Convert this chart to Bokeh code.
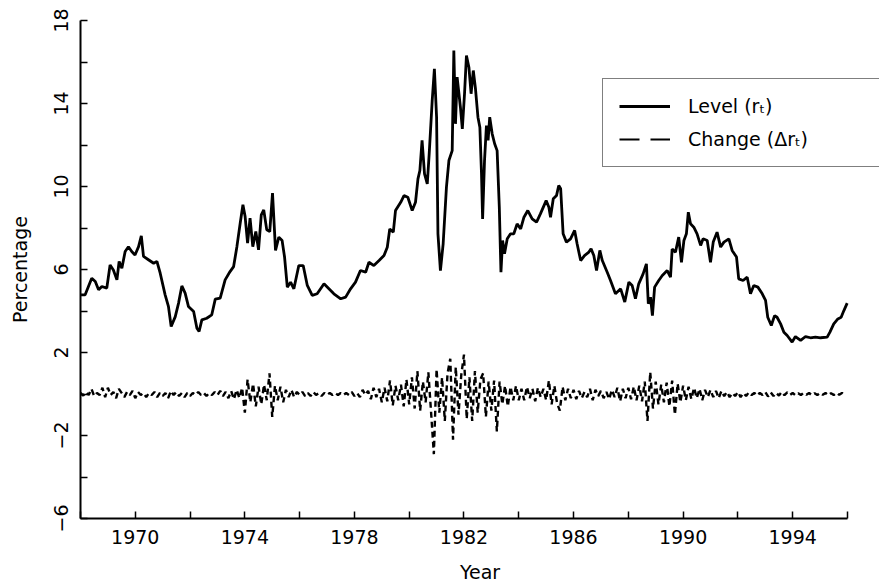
from bokeh.plotting import figure
from bokeh.models import FixedTicker, Legend, LegendItem, ColumnDataSource
from bokeh.embed import file_html
from bokeh.resources import INLINE

# ---- level of the rate (r_t) ----
level_year = [
    1968.02, 1968.17, 1968.29, 1968.41, 1968.54, 1968.66, 1968.78, 1968.96, 1969.08, 1969.20,
    1969.33, 1969.41, 1969.51, 1969.63, 1969.75, 1969.87, 1969.99, 1970.12, 1970.22, 1970.30,
    1970.48, 1970.67, 1970.79, 1970.91, 1971.09, 1971.21, 1971.31, 1971.46, 1971.58, 1971.70,
    1971.82, 1971.94, 1972.13, 1972.25, 1972.33, 1972.43, 1972.61, 1972.79, 1972.92, 1973.10,
    1973.28, 1973.46, 1973.59, 1973.71, 1973.83, 1973.93, 1974.01, 1974.10, 1974.19, 1974.29,
    1974.40, 1974.50, 1974.60, 1974.69, 1974.80, 1974.91, 1975.01, 1975.12, 1975.24, 1975.36,
    1975.45, 1975.55, 1975.67, 1975.79, 1975.97, 1976.13, 1976.28, 1976.46, 1976.64, 1976.89,
    1977.07, 1977.25, 1977.50, 1977.68, 1977.86, 1978.04, 1978.22, 1978.41, 1978.53, 1978.71,
    1978.90, 1979.08, 1979.20, 1979.29, 1979.42, 1979.50, 1979.69, 1979.81, 1979.95, 1980.11,
    1980.23, 1980.32, 1980.39, 1980.47, 1980.56, 1980.66, 1980.73, 1980.84, 1980.92, 1981.00,
    1981.05, 1981.14, 1981.24, 1981.36, 1981.45, 1981.57, 1981.63, 1981.69, 1981.75, 1981.87,
    1981.94, 1982.02, 1982.09, 1982.18, 1982.26, 1982.34, 1982.42, 1982.51, 1982.58, 1982.64,
    1982.68, 1982.75, 1982.82, 1982.88, 1982.94, 1983.03, 1983.12, 1983.21, 1983.29, 1983.35,
    1983.41, 1983.48, 1983.58, 1983.70, 1983.82, 1983.94, 1984.07, 1984.19, 1984.33, 1984.49,
    1984.65, 1984.79, 1985.00, 1985.10, 1985.16, 1985.26, 1985.38, 1985.46, 1985.53, 1985.62,
    1985.74, 1985.89, 1986.04, 1986.13, 1986.26, 1986.40, 1986.56, 1986.64, 1986.74, 1986.84,
    1986.96, 1987.05, 1987.23, 1987.35, 1987.53, 1987.72, 1987.87, 1988.02, 1988.14, 1988.26,
    1988.38, 1988.54, 1988.66, 1988.73, 1988.81, 1988.88, 1988.96, 1989.11, 1989.24, 1989.42,
    1989.54, 1989.60, 1989.72, 1989.84, 1989.94, 1990.03, 1990.12, 1990.19, 1990.27, 1990.39,
    1990.51, 1990.64, 1990.73, 1990.88, 1991.00, 1991.10, 1991.24, 1991.37, 1991.49, 1991.67,
    1991.79, 1991.95, 1992.03, 1992.19, 1992.34, 1992.46, 1992.58, 1992.73, 1992.89, 1993.01,
    1993.09, 1993.22, 1993.34, 1993.43, 1993.56, 1993.68, 1993.80, 1993.98, 1994.10, 1994.29,
    1994.47, 1994.65, 1994.83, 1995.02, 1995.26, 1995.36, 1995.50, 1995.65, 1995.77, 1995.87,
    1995.99,
]
level_value = [
    4.78, 4.78, 5.18, 5.58, 5.42, 5.02, 5.18, 5.10, 6.22, 5.98,
    5.50, 6.39, 6.06, 6.87, 7.10, 6.87, 6.70, 7.10, 7.62, 6.63,
    6.47, 6.30, 6.39, 5.82, 4.78, 4.22, 3.25, 3.73, 4.38, 5.21,
    4.86, 4.22, 3.98, 3.17, 3.01, 3.57, 3.65, 3.81, 4.57, 4.62,
    5.50, 5.90, 6.14, 7.10, 8.23, 9.12, 8.55, 7.27, 8.47, 7.10,
    7.83, 6.95, 8.63, 8.87, 7.91, 7.83, 9.68, 6.92, 7.56, 7.40,
    6.60, 5.15, 5.39, 5.07, 6.19, 6.19, 5.23, 4.75, 4.83, 5.31,
    5.07, 4.83, 4.59, 4.67, 5.07, 5.39, 5.95, 5.87, 6.35, 6.19,
    6.43, 6.67, 7.07, 7.95, 7.80, 8.84, 9.24, 9.56, 9.48, 8.84,
    9.24, 10.37, 10.77, 12.22, 10.61, 10.13, 11.57, 14.14, 15.67, 13.34,
    7.72, 5.95, 7.24, 9.97, 11.25, 11.73, 16.55, 13.02, 15.27, 13.82,
    12.78, 14.47, 16.31, 15.75, 14.47, 15.59, 14.71, 13.34, 12.86, 10.61,
    8.44, 11.25, 12.94, 12.22, 13.34, 12.54, 12.06, 11.73, 9.00, 5.87,
    7.40, 6.76, 7.48, 7.72, 7.72, 8.20, 7.96, 8.52, 8.84, 8.44,
    8.28, 8.68, 9.32, 9.00, 8.52, 9.41, 9.57, 10.05, 9.89, 7.72,
    7.32, 7.48, 7.88, 7.24, 6.43, 6.67, 6.84, 7.00, 6.67, 5.95,
    6.92, 6.43, 5.87, 5.47, 4.83, 5.07, 4.43, 5.39, 5.23, 4.59,
    5.31, 5.79, 6.27, 4.35, 4.67, 3.78, 5.15, 5.47, 5.71, 5.95,
    5.63, 6.99, 6.83, 7.56, 6.35, 7.40, 7.72, 8.76, 8.20, 8.04,
    7.72, 7.16, 7.48, 7.40, 6.35, 7.32, 7.80, 7.08, 7.32, 7.48,
    6.92, 6.60, 5.55, 5.47, 5.63, 4.83, 5.23, 5.15, 4.83, 4.51,
    3.70, 3.30, 3.78, 3.70, 3.38, 2.98, 2.82, 2.50, 2.77, 2.58,
    2.77, 2.71, 2.74, 2.71, 2.74, 2.98, 3.38, 3.62, 3.70, 4.02,
    4.38,
]

# ---- change of the rate (delta r_t), ten readings per year from 1968.0 ----
change_first_year = 1968.0
change_step = 0.1
change_value = [
    0.05, -0.08, 0.10, -0.05, 0.25, -0.10, 0.05, -0.05, 0.30, -0.15,   # 1968
    0.30, -0.05, 0.10, -0.20, 0.25, 0.05, -0.15, 0.10, -0.05, 0.15,    # 1969
    -0.20, 0.10, -0.05, 0.05, -0.15, 0.05, -0.05, 0.10, -0.15, 0.05,   # 1970
    -0.10, 0.05, -0.20, 0.15, -0.05, 0.10, -0.10, 0.05, -0.15, 0.05,   # 1971
    -0.10, 0.05, -0.05, 0.10, -0.05, 0.05, -0.10, 0.05, -0.05, 0.10,   # 1972
    -0.05, 0.15, -0.10, 0.10, -0.20, 0.15, -0.25, 0.20, -0.20, 0.30,   # 1973
    -0.90, 0.70, -0.40, 0.50, -0.60, 0.35, -0.50, 0.45, -0.30, 1.00,   # 1974
    -1.10, 0.40, -0.30, 0.35, -0.40, 0.20, -0.15, 0.20, -0.15, 0.10,   # 1975
    -0.05, 0.10, -0.10, 0.05, -0.10, 0.10, -0.05, 0.05, -0.10, 0.05,   # 1976
    -0.05, 0.05, -0.05, 0.05, -0.05, 0.05, -0.05, 0.05, -0.05, 0.10,   # 1977
    -0.10, 0.05, -0.15, 0.20, -0.05, 0.15, -0.25, 0.30, -0.15, 0.25,   # 1978
    -0.40, 0.30, -0.35, 0.65, -0.55, 0.40, -0.30, 0.45, -0.60, 0.70,   # 1979
    -0.50, 0.80, -0.70, 1.10, -0.80, 0.60, -0.40, 1.05, -0.90, -2.90,  # 1980
    1.20, -0.90, 0.80, -1.30, 1.00, 1.70, -2.20, 1.30, -1.00, 0.90,    # 1981
    1.90, -1.20, 0.80, -1.30, 1.10, -0.90, 0.70, 1.00, -1.10, 0.60,    # 1982
    -0.80, 0.65, -1.80, 0.60, -0.50, 0.40, -0.60, 0.35, -0.30, 0.40,   # 1983
    -0.30, 0.25, -0.30, 0.35, -0.20, 0.25, -0.35, 0.30, -0.15, 0.25,   # 1984
    -0.30, 0.65, -0.50, 0.40, -0.45, -0.80, 0.35, -0.30, 0.25, -0.20,  # 1985
    0.20, -0.25, 0.15, -0.20, 0.10, -0.15, 0.25, -0.30, 0.20, -0.10,   # 1986
    0.15, -0.20, 0.10, -0.25, 0.20, -0.15, 0.30, -0.35, 0.25, -0.20,   # 1987
    0.30, -0.25, 0.35, -0.30, 0.40, -0.35, 0.60, -1.30, 1.05, -0.70,   # 1988
    0.60, -0.50, 0.45, -0.40, 0.55, -0.60, 0.65, -1.00, 0.50, -0.40,   # 1989
    0.40, -0.30, 0.35, -0.25, 0.30, -0.20, 0.25, -0.30, 0.20, -0.15,   # 1990
    0.20, -0.15, 0.15, -0.20, 0.15, -0.10, 0.10, -0.15, 0.05, -0.10,   # 1991
    0.10, -0.15, 0.05, -0.10, 0.08, -0.05, 0.05, -0.08, 0.05, -0.05,   # 1992
    0.10, -0.12, 0.08, -0.10, 0.06, -0.08, 0.10, -0.06, 0.08, -0.05,   # 1993
    0.05, -0.06, 0.04, -0.05, 0.06, -0.04, 0.05, -0.06, 0.04, -0.05,   # 1994
    0.06, -0.04, 0.05, -0.06, 0.04, -0.05, 0.06, -0.04, 0.05, -0.06,   # 1995
]
change_year = [round(change_first_year + change_step * i, 2) for i in range(len(change_value))]

x_labeled_ticks = [1970, 1974, 1978, 1982, 1986, 1990, 1994]
x_other_ticks = [1968, 1972, 1976, 1980, 1984, 1988, 1992, 1996]
y_labeled_ticks = [-6, -2, 2, 6, 10, 14, 18]
y_other_ticks = [-4, 0, 4, 8, 12, 16]

FONT = "DejaVu Sans"

p = figure(width=880, height=585, x_range=(1968, 1997.17), y_range=(-6, 18),
           output_backend="svg", toolbar_location=None,
           min_border_left=80, min_border_right=1, min_border_top=20, min_border_bottom=67)
p.outline_line_color = None
p.xgrid.visible = False
p.ygrid.visible = False
p.background_fill_color = "white"
p.border_fill_color = "white"

lvl_src = ColumnDataSource(dict(x=level_year, y=level_value))
chg_src = ColumnDataSource(dict(x=change_year, y=change_value))

r_level = p.line("x", "y", source=lvl_src, line_color="black", line_width=2.8)
r_change = p.line("x", "y", source=chg_src, line_color="black", line_width=2.4, line_dash="6 4")
# key-only line (no data drawn) for the legend sample of the dashed series
r_change_key = p.line(x=[float("nan")], y=[float("nan")], line_color="black",
                      line_width=2.2, line_dash="20 11")

# axes
p.xaxis.ticker = FixedTicker(ticks=x_labeled_ticks, minor_ticks=x_other_ticks)
p.yaxis.ticker = FixedTicker(ticks=y_labeled_ticks, minor_ticks=y_other_ticks)
p.xaxis.bounds = (1968, 1996)
for ax in (p.xaxis, p.yaxis):
    ax.axis_line_color = "black"
    ax.axis_line_width = 2
    ax.major_tick_in = 7
    ax.major_tick_out = 0
    ax.minor_tick_in = 7
    ax.minor_tick_out = 0
    ax.major_tick_line_color = "black"
    ax.minor_tick_line_color = "black"
    ax.major_tick_line_width = 1.5
    ax.minor_tick_line_width = 1.5
    ax.major_label_text_font = FONT
    ax.major_label_text_font_size = "19px"
    ax.major_label_text_color = "black"
    ax.axis_label_text_font = FONT
    ax.axis_label_text_font_size = "19px"
    ax.axis_label_text_font_style = "normal"
    ax.axis_label_text_color = "black"

p.xaxis.axis_label = "Year"
p.xaxis.major_label_standoff = 11
p.xaxis.axis_label_standoff = 14
p.yaxis.axis_label = "Percentage"
p.yaxis.major_label_orientation = "vertical"
p.yaxis.major_label_standoff = 13
p.yaxis.axis_label_standoff = 20

legend = Legend(items=[LegendItem(label="Level (rₜ)", renderers=[r_level]),
                       LegendItem(label="Change (Δrₜ)", renderers=[r_change_key])],
                location=(522, 351), orientation="vertical")
legend.border_line_color = "black"
legend.border_line_width = 1.5
legend.background_fill_color = "white"
legend.background_fill_alpha = 1
legend.padding = 16
legend.spacing = 11
legend.margin = 0
legend.glyph_width = 51
legend.glyph_height = 20
legend.label_standoff = 18
legend.label_width = 175
legend.label_height = 20
legend.label_text_font = FONT
legend.label_text_font_size = "19px"
legend.label_text_color = "black"
p.add_layout(legend)

open("out.html", "w").write(file_html(p, INLINE))
